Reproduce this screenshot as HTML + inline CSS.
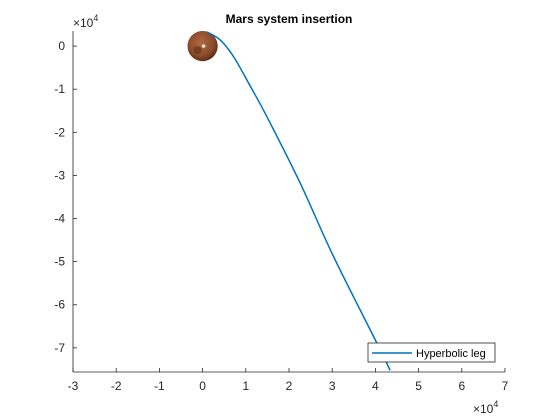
<!DOCTYPE html>
<html><head><meta charset="utf-8"><style>
html,body{margin:0;padding:0;background:#fff;}
svg{display:block;font-family:"Liberation Sans",Arial,sans-serif;}
</style></head><body>
<svg id="chart" width="560" height="420" viewBox="0 0 560 420">
<defs>
<radialGradient id="mg" cx="45%" cy="40%" r="60%">
<stop offset="0" stop-color="#b06a40"/><stop offset="0.7" stop-color="#8a4a2a"/><stop offset="1" stop-color="#5a2e18"/>
</radialGradient>
<clipPath id="pc"><rect x="73" y="31" width="432" height="341"/></clipPath>
</defs>
<rect x="73" y="31" width="432" height="341" fill="#fff"/>
<g id="axes"></g>
<g id="series" clip-path="url(#pc)"></g>
<text x="289" y="23" text-anchor="middle" font-size="12" font-weight="bold">Mars system insertion</text>
<text x="73" y="27" font-size="12" fill="#262626">×10<tspan dy="-6" font-size="9">4</tspan></text>
<text x="473" y="413" font-size="12" fill="#262626">×10<tspan dy="-6" font-size="9">4</tspan></text>
<g>
<rect x="368" y="343" width="127" height="19" fill="#fff" stroke="#262626" stroke-width="0.8"/>
<line x1="372" y1="353" x2="412" y2="353" stroke="#0072bd" stroke-width="1.5"/>
<text x="416" y="357" font-size="11" fill="#000">Hyperbolic leg</text>
</g>
</svg>
<script>
const xTicks=[-3,-2,-1,0,1,2,3,4,5,6,7];
const yTicks=[0,-1,-2,-3,-4,-5,-6,-7];
const trajX=[0.10,0.41,0.72,1.11,1.49,2.26,3.03,4.04,4.34];
const trajY=[0.33,0.14,-0.25,-0.94,-1.64,-3.18,-4.88,-6.90,-7.52];
const marsCenter=[0,0];
const marsRadius=0.35;
const L=73,R=505,T=31,B=372,xmin=-3,xmax=7,ymin=-7.56,ymax=0.35;
const sx=v=>L+(v-xmin)/(xmax-xmin)*(R-L);
const sy=v=>B-(v-ymin)/(ymax-ymin)*(B-T);
const NS="http://www.w3.org/2000/svg";
const ax=document.getElementById('axes'),se=document.getElementById('series');
function mk(t,a,p){const e=document.createElementNS(NS,t);for(const k in a)e.setAttribute(k,a[k]);p.appendChild(e);return e;}
const xa=mk('line',{x1:L,y1:B,x2:R,y2:B,stroke:'#262626','stroke-width':0.8},ax);


const ya=mk('line',{x1:L,y1:T,x2:L,y2:B,stroke:'#262626','stroke-width':0.8},ax);


xTicks.forEach(v=>{const x=sx(v);
mk('line',{x1:x,y1:B,x2:x,y2:B-4,stroke:'#262626','stroke-width':0.8},ax);
const t=mk('text',{x:x,y:B+18,'text-anchor':'middle','font-size':12,fill:'#262626'},ax);t.textContent=v;

});
yTicks.forEach(v=>{const y=sy(v);
mk('line',{x1:L,y1:y,x2:L+4,y2:y,stroke:'#262626','stroke-width':0.8},ax);
const t=mk('text',{x:L-8,y:y+4,'text-anchor':'end','font-size':12,fill:'#262626'},ax);t.textContent=v;

});
const cx=sx(marsCenter[0]),cy=sy(marsCenter[1]),r=sx(marsRadius)-sx(0);
const m=mk('circle',{cx:cx,cy:cy,r:r,fill:'url(#mg)'},se);


mk('circle',{cx:cx-5,cy:cy+4,r:4,fill:'#5e2f1a',opacity:0.6},se);
mk('circle',{cx:cx+1,cy:cy,r:1.8,fill:'#ddd'},se);
const P=trajX.map((x,i)=>[sx(x),sy(trajY[i])]);
let d='M'+P[0][0]+','+P[0][1];
for(let i=0;i<P.length-1;i++){const p0=P[Math.max(0,i-1)],p1=P[i],p2=P[i+1],p3=P[Math.min(P.length-1,i+2)];
d+=' C'+(p1[0]+(p2[0]-p0[0])/6)+','+(p1[1]+(p2[1]-p0[1])/6)+' '+(p2[0]-(p3[0]-p1[0])/6)+','+(p2[1]-(p3[1]-p1[1])/6)+' '+p2[0]+','+p2[1];}
const p=mk('path',{d:d,fill:'none',stroke:'#0072bd','stroke-width':1.5},se);


</script>
</body></html>
